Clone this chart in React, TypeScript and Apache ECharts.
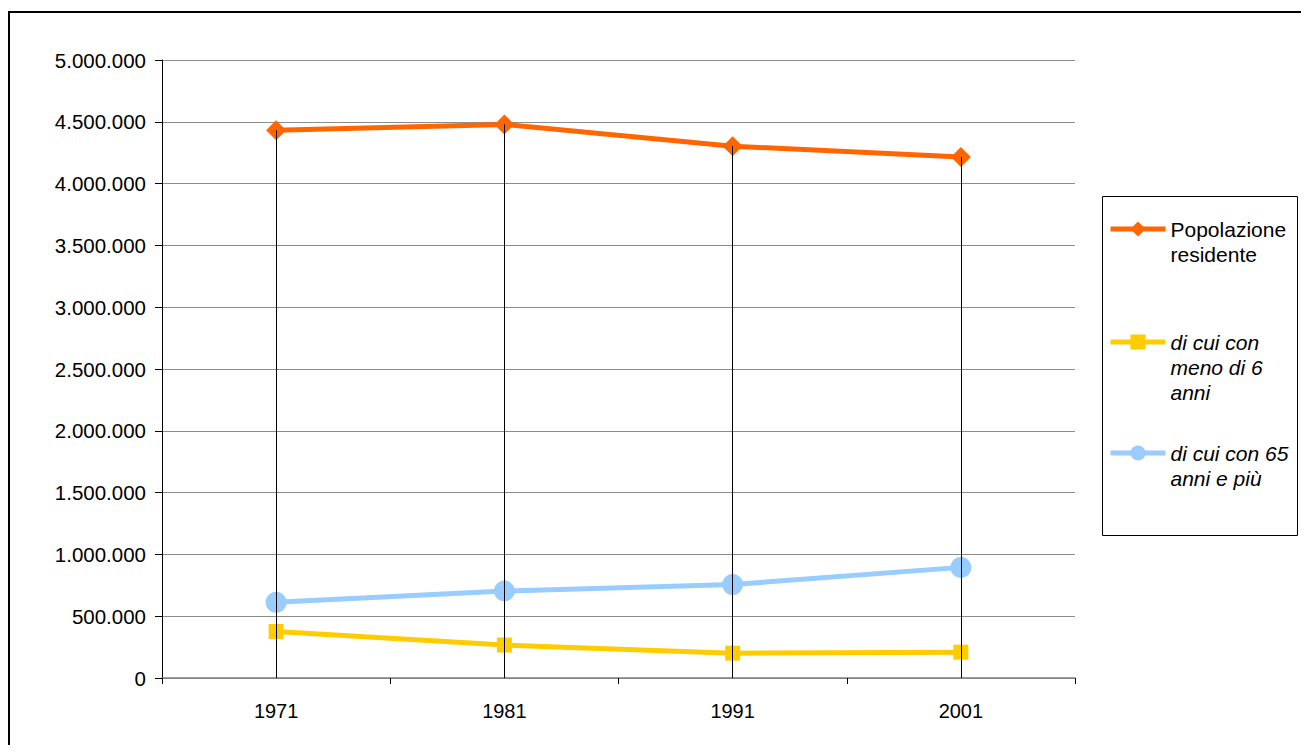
import React, { useEffect, useRef } from "react";
import * as echarts from "echarts";

const categories = ["1971", "1981", "1991", "2001"];
const seriesNames = [
  "Popolazione\nresidente",
  "di cui con\nmeno di 6\nanni",
  "di cui con 65\nanni e più",
];
const popolazione = [4432000, 4479000, 4303000, 4215000];
const menoDi6 = [376000, 267000, 201000, 209000];
const over65 = [612000, 704000, 756000, 895000];
const yTicks = { min: 0, max: 5000000, interval: 500000 };

const fmt = (v: number) => String(v).replace(/\B(?=(\d{3})+(?!\d))/g, ".");

export default function App() {
  const ref = useRef<HTMLDivElement>(null);
  useEffect(() => {
    if (!ref.current) return;
    const chart = echarts.init(ref.current, undefined, { renderer: "svg" });
    const font = "'Liberation Sans', Arial, sans-serif";
    const lh = 25;
    const iconCenters = [221, 334, 445];
    const lines = seriesNames.map((n) => n.split("\n").length);
    const legendTops = lines.map((n, i) => iconCenters[i] - (lh * (2 * n - 1)) / 2);
    chart.setOption({
      animation: false,
      backgroundColor: "#fff",
      textStyle: { fontFamily: font },
      grid: { left: 154, top: 52, width: 913, height: 618 },
      xAxis: {
        type: "category",
        data: categories,
        boundaryGap: true,
        axisLine: { lineStyle: { color: "#808080", width: 1.5 } },
        axisTick: { show: true, length: 6, lineStyle: { color: "#000" } },
        axisLabel: { color: "#000", fontSize: 20, fontFamily: font, margin: 23 },
        splitLine: { show: false },
      },
      yAxis: {
        type: "value",
        min: yTicks.min,
        max: yTicks.max,
        interval: yTicks.interval,
        axisLine: { show: true, lineStyle: { color: "#000", width: 1 } },
        axisTick: { show: true, length: 7, lineStyle: { color: "#000" } },
        axisLabel: {
          color: "#000",
          fontSize: 20.5,
          fontFamily: font,
          margin: 16,
          formatter: (v: number) => fmt(v),
        },
        splitLine: { show: true, lineStyle: { color: "#8c8c8c", width: 1 } },
      },
      legend: seriesNames.map((name, i) => ({
        left: 1100,
        top: legendTops[i],
        padding: 0,
        itemWidth: 55,
        itemHeight: 19,
        selectedMode: false,
        lineStyle: { width: 5 },
        formatter: (n: string) => "\n".repeat(lines[i] - 1) + n,
        data: [
          {
            name,
            textStyle: {
              color: "#000",
              fontSize: 21,
              fontFamily: font,
              lineHeight: lh,
              fontStyle: i === 0 ? "normal" : "italic",
            },
          },
        ],
      })),
      graphic: [
        {
          type: "polyline",
          shape: { points: [[1, 1000], [1, 4], [1400, 4]] },
          style: { fill: "none", stroke: "#000", lineWidth: 2 },
          silent: true,
        },
        {
          type: "rect",
          shape: { x: 1094.5, y: 188.5, width: 195, height: 339 },
          style: { fill: "none", stroke: "#000", lineWidth: 1 },
          silent: true,
        },
      ],
      series: [
        {
          name: seriesNames[0],
          type: "line",
          data: popolazione,
          z: 2,
          symbol: "diamond",
          symbolSize: 20,
          lineStyle: { color: "#FF6600", width: 5 },
          itemStyle: { color: "#FF6600" },
          markLine: {
            silent: true,
            symbol: "none",
            label: { show: false },
            lineStyle: { color: "#000", width: 1, type: "solid" },
            data: popolazione.map((v, i) => [
              { coord: [categories[i], 0] },
              { coord: [categories[i], v] },
            ]),
          },
        },
        {
          name: seriesNames[1],
          type: "line",
          data: menoDi6,
          z: 3,
          symbol: "rect",
          symbolSize: 15,
          lineStyle: { color: "#FFCC00", width: 5 },
          itemStyle: { color: "#FFCC00" },
        },
        {
          name: seriesNames[2],
          type: "line",
          data: over65,
          z: 3,
          symbol: "circle",
          symbolSize: 21,
          lineStyle: { color: "#99CCFF", width: 5 },
          itemStyle: { color: "#99CCFF" },
        },
      ],
    });
    return () => chart.dispose();
  }, []);
  return (
    <div style={{ width: 1293, height: 737, overflow: "hidden", position: "relative" }}>
      <div ref={ref} style={{ width: 1360, height: 800 }} />
    </div>
  );
}
